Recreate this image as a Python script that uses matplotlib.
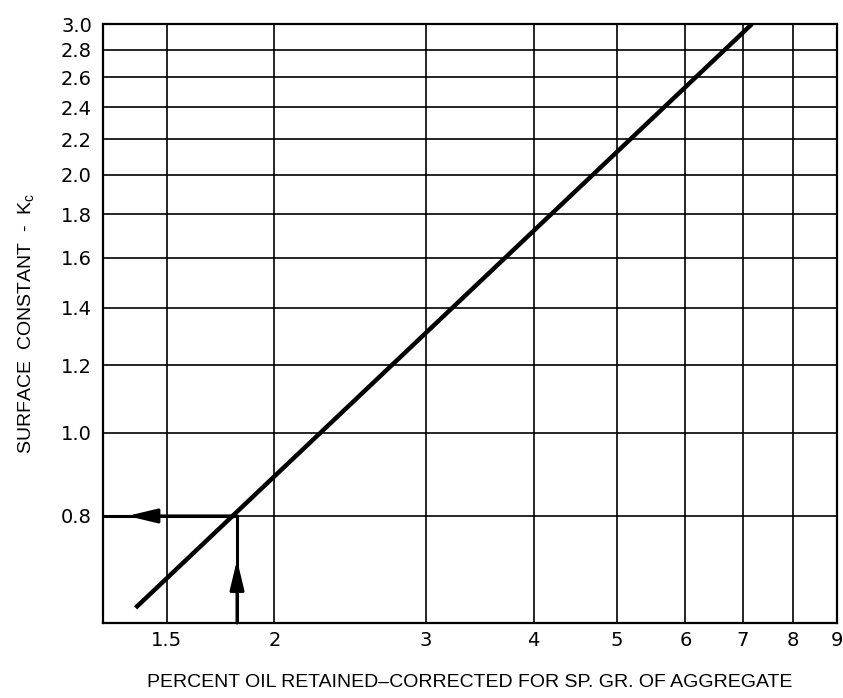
import matplotlib.pyplot as plt
import numpy as np

plt.rcParams['font.family'] = ['Liberation Sans', 'DejaVu Sans']

# chart values
line_x = [1.38, 7.17]
line_y = [0.625, 3.0]
example_x = 1.81
example_y = 0.80
arrow_tip_x = 1.35
arrow_tip_y = 0.711
x_ticks = [1.5, 2, 3, 4, 5, 6, 7, 8, 9]
x_labels = ['1.5', '2', '3', '4', '5', '6', '7', '8', '9']
y_ticks = [0.8, 1.0, 1.2, 1.4, 1.6, 1.8, 2.0, 2.2, 2.4, 2.6, 2.8, 3.0]
y_labels = ['0.8', '1.0', '1.2', '1.4', '1.6', '1.8', '2.0', '2.2', '2.4', '2.6', '2.8', '3.0']
x_lim = (1.265, 9.0)
y_lim = (0.6, 3.0)

fig = plt.figure(figsize=(8.43, 6.98), dpi=100)
ax = fig.add_axes([0.1222, 0.1074, 0.8707, 0.8582])

ax.set_xscale('log')
ax.set_yscale('log')
ax.set_xlim(*x_lim)
ax.set_ylim(*y_lim)

ax.xaxis.set_minor_locator(plt.NullLocator())
ax.yaxis.set_minor_locator(plt.NullLocator())
ax.set_xticks(x_ticks)
ax.set_xticklabels(x_labels, fontsize=14, family='DejaVu Sans')
ax.set_yticks(y_ticks)
ax.set_yticklabels(y_labels, fontsize=14, family='DejaVu Sans')
ax.tick_params(axis='y', length=0, pad=8)
ax.tick_params(axis='x', length=0, pad=6)

ax.grid(True, color='black', linewidth=1.2)
ax.set_axisbelow(True)
for sp in ax.spines.values():
    sp.set_linewidth(1.6)

# main curve
ax.plot(line_x, line_y, color='black', linewidth=3.2, solid_capstyle='butt')

# example: read up from x then across to the axis
ax.plot([example_x, example_x], [y_lim[0], example_y], color='black', linewidth=2.2)
ax.plot([x_lim[0], example_x], [example_y, example_y], color='black', linewidth=2.2)
head = dict(arrowstyle='-|>,head_length=1.0,head_width=0.24', mutation_scale=18,
            color='black', lw=2.2, shrinkA=0, shrinkB=0)
ax.annotate('', xy=(example_x, arrow_tip_y), xytext=(example_x, y_lim[0]), arrowprops=head)
ax.annotate('', xy=(arrow_tip_x, example_y), xytext=(example_x, example_y), arrowprops=head)

ax.set_xlabel('PERCENT OIL RETAINED\u2013CORRECTED FOR SP. GR. OF AGGREGATE', fontsize=14, labelpad=17)
ax.set_ylabel('SURFACE  CONSTANT  -  K$_\\mathregular{c}$', fontsize=14, labelpad=17)

plt.savefig('out.png', dpi=100)
